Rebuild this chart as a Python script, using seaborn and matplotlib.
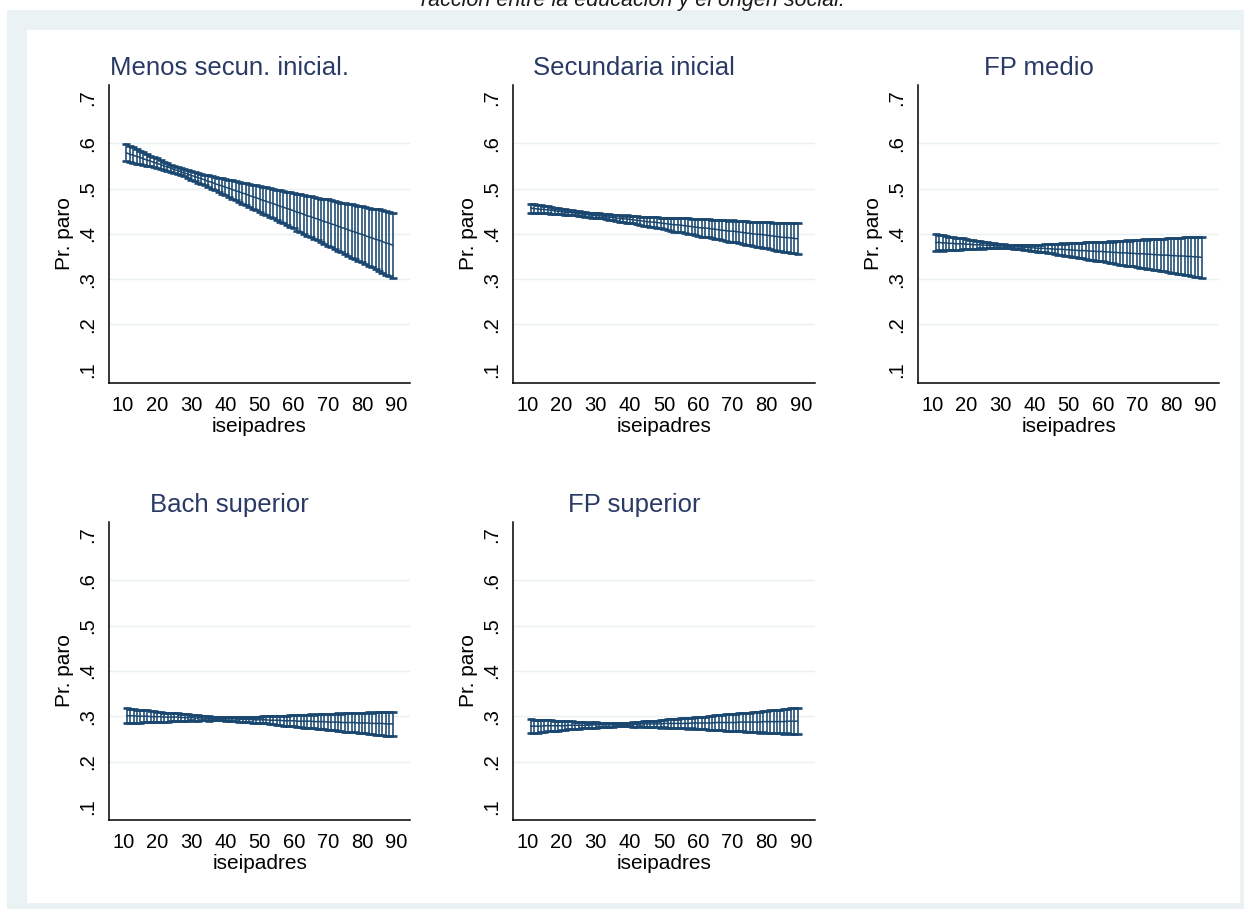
import numpy as np
import pandas as pd
import matplotlib
matplotlib.use("Agg")
import matplotlib.pyplot as plt
from matplotlib.patches import Rectangle
import seaborn as sns

# Predicted probability of unemployment by parents' ISEI, one panel per education level
iseipadres = list(range(11, 90))

panel_titles = ["Menos secun. inicial.", "Secundaria inicial", "FP medio",
                "Bach superior", "FP superior"]

# Margin (predicted probability) and half-width of its 95% interval at each iseipadres value
pr_menos = [0.579, 0.576, 0.574, 0.571, 0.569, 0.566, 0.563, 0.561, 0.558, 0.556,
            0.553, 0.550, 0.548, 0.545, 0.542, 0.540, 0.537, 0.535, 0.532, 0.529,
            0.527, 0.524, 0.522, 0.519, 0.516, 0.514, 0.511, 0.508, 0.506, 0.503,
            0.501, 0.498, 0.495, 0.493, 0.490, 0.488, 0.485, 0.482, 0.480, 0.477,
            0.474, 0.472, 0.469, 0.467, 0.464, 0.461, 0.459, 0.456, 0.454, 0.451,
            0.448, 0.446, 0.443, 0.440, 0.438, 0.435, 0.433, 0.430, 0.427, 0.425,
            0.422, 0.420, 0.417, 0.414, 0.412, 0.409, 0.406, 0.404, 0.401, 0.399,
            0.396, 0.393, 0.391, 0.388, 0.386, 0.383, 0.380, 0.378, 0.375]
hw_menos = [0.019, 0.018, 0.017, 0.016, 0.015, 0.014, 0.013, 0.012, 0.011, 0.011,
            0.010, 0.009, 0.009, 0.008, 0.008, 0.008, 0.008, 0.008, 0.009, 0.009,
            0.010, 0.011, 0.011, 0.012, 0.013, 0.014, 0.015, 0.016, 0.017, 0.018,
            0.019, 0.020, 0.021, 0.022, 0.023, 0.024, 0.025, 0.026, 0.027, 0.028,
            0.030, 0.031, 0.032, 0.033, 0.034, 0.035, 0.036, 0.037, 0.038, 0.039,
            0.041, 0.042, 0.043, 0.044, 0.045, 0.046, 0.047, 0.048, 0.050, 0.051,
            0.052, 0.053, 0.054, 0.055, 0.056, 0.057, 0.059, 0.060, 0.061, 0.062,
            0.063, 0.064, 0.065, 0.066, 0.068, 0.069, 0.070, 0.071, 0.072]

pr_secund = [0.457, 0.456, 0.455, 0.454, 0.454, 0.453, 0.452, 0.451, 0.450, 0.449,
             0.448, 0.447, 0.447, 0.446, 0.445, 0.444, 0.443, 0.442, 0.441, 0.440,
             0.440, 0.439, 0.438, 0.437, 0.436, 0.435, 0.434, 0.433, 0.433, 0.432,
             0.431, 0.430, 0.429, 0.428, 0.427, 0.426, 0.426, 0.425, 0.424, 0.423,
             0.422, 0.421, 0.420, 0.420, 0.419, 0.418, 0.417, 0.416, 0.415, 0.414,
             0.413, 0.413, 0.412, 0.411, 0.410, 0.409, 0.408, 0.407, 0.406, 0.406,
             0.405, 0.404, 0.403, 0.402, 0.401, 0.400, 0.399, 0.399, 0.398, 0.397,
             0.396, 0.395, 0.394, 0.393, 0.392, 0.392, 0.391, 0.390, 0.389]
hw_secund = [0.010, 0.010, 0.009, 0.009, 0.008, 0.008, 0.008, 0.007, 0.007, 0.006,
             0.006, 0.006, 0.005, 0.005, 0.005, 0.005, 0.005, 0.005, 0.005, 0.005,
             0.005, 0.005, 0.005, 0.006, 0.006, 0.006, 0.007, 0.007, 0.008, 0.008,
             0.008, 0.009, 0.009, 0.010, 0.010, 0.011, 0.011, 0.012, 0.012, 0.013,
             0.013, 0.014, 0.015, 0.015, 0.016, 0.016, 0.017, 0.017, 0.018, 0.018,
             0.019, 0.019, 0.020, 0.020, 0.021, 0.021, 0.022, 0.023, 0.023, 0.024,
             0.024, 0.025, 0.025, 0.026, 0.026, 0.027, 0.027, 0.028, 0.029, 0.029,
             0.030, 0.030, 0.031, 0.031, 0.032, 0.032, 0.033, 0.033, 0.034]

pr_fpmedio = [0.381, 0.381, 0.380, 0.380, 0.379, 0.379, 0.378, 0.378, 0.378, 0.377,
              0.377, 0.376, 0.376, 0.376, 0.375, 0.375, 0.374, 0.374, 0.373, 0.373,
              0.373, 0.372, 0.372, 0.371, 0.371, 0.371, 0.370, 0.370, 0.369, 0.369,
              0.368, 0.368, 0.368, 0.367, 0.367, 0.366, 0.366, 0.366, 0.365, 0.365,
              0.364, 0.364, 0.363, 0.363, 0.363, 0.362, 0.362, 0.361, 0.361, 0.361,
              0.360, 0.360, 0.359, 0.359, 0.358, 0.358, 0.358, 0.357, 0.357, 0.356,
              0.356, 0.356, 0.355, 0.355, 0.354, 0.354, 0.353, 0.353, 0.353, 0.352,
              0.352, 0.351, 0.351, 0.351, 0.350, 0.350, 0.349, 0.349, 0.348]
hw_fpmedio = [0.018, 0.017, 0.017, 0.016, 0.015, 0.014, 0.013, 0.013, 0.012, 0.011,
              0.010, 0.010, 0.009, 0.008, 0.008, 0.007, 0.006, 0.006, 0.005, 0.005,
              0.004, 0.004, 0.004, 0.004, 0.004, 0.005, 0.005, 0.006, 0.006, 0.007,
              0.008, 0.008, 0.009, 0.010, 0.010, 0.011, 0.012, 0.013, 0.013, 0.014,
              0.015, 0.016, 0.017, 0.017, 0.018, 0.019, 0.020, 0.020, 0.021, 0.022,
              0.023, 0.024, 0.024, 0.025, 0.026, 0.027, 0.028, 0.028, 0.029, 0.030,
              0.031, 0.032, 0.032, 0.033, 0.034, 0.035, 0.036, 0.036, 0.037, 0.038,
              0.039, 0.040, 0.040, 0.041, 0.042, 0.043, 0.044, 0.044, 0.045]

pr_bach = [0.301, 0.301, 0.301, 0.300, 0.300, 0.300, 0.300, 0.299, 0.299, 0.299,
           0.299, 0.298, 0.298, 0.298, 0.298, 0.298, 0.297, 0.297, 0.297, 0.297,
           0.296, 0.296, 0.296, 0.296, 0.295, 0.295, 0.295, 0.295, 0.295, 0.294,
           0.294, 0.294, 0.294, 0.293, 0.293, 0.293, 0.293, 0.292, 0.292, 0.292,
           0.292, 0.292, 0.291, 0.291, 0.291, 0.291, 0.290, 0.290, 0.290, 0.290,
           0.289, 0.289, 0.289, 0.289, 0.289, 0.288, 0.288, 0.288, 0.288, 0.287,
           0.287, 0.287, 0.287, 0.286, 0.286, 0.286, 0.286, 0.286, 0.285, 0.285,
           0.285, 0.285, 0.284, 0.284, 0.284, 0.284, 0.283, 0.283, 0.283]
hw_bach = [0.016, 0.015, 0.015, 0.014, 0.014, 0.013, 0.013, 0.012, 0.012, 0.011,
           0.011, 0.010, 0.010, 0.009, 0.009, 0.008, 0.008, 0.007, 0.007, 0.006,
           0.006, 0.006, 0.005, 0.005, 0.005, 0.004, 0.004, 0.004, 0.004, 0.004,
           0.004, 0.004, 0.005, 0.005, 0.005, 0.006, 0.006, 0.006, 0.007, 0.007,
           0.008, 0.008, 0.009, 0.009, 0.010, 0.010, 0.011, 0.011, 0.012, 0.012,
           0.013, 0.013, 0.014, 0.014, 0.015, 0.015, 0.016, 0.016, 0.017, 0.017,
           0.018, 0.018, 0.019, 0.019, 0.020, 0.020, 0.021, 0.021, 0.022, 0.023,
           0.023, 0.024, 0.024, 0.025, 0.025, 0.026, 0.026, 0.027, 0.027]

pr_fpsup = [0.278, 0.278, 0.278, 0.278, 0.279, 0.279, 0.279, 0.279, 0.279, 0.279,
            0.279, 0.280, 0.280, 0.280, 0.280, 0.280, 0.280, 0.280, 0.281, 0.281,
            0.281, 0.281, 0.281, 0.281, 0.281, 0.282, 0.282, 0.282, 0.282, 0.282,
            0.282, 0.282, 0.283, 0.283, 0.283, 0.283, 0.283, 0.283, 0.283, 0.284,
            0.284, 0.284, 0.284, 0.284, 0.284, 0.284, 0.284, 0.285, 0.285, 0.285,
            0.285, 0.285, 0.285, 0.285, 0.286, 0.286, 0.286, 0.286, 0.286, 0.286,
            0.286, 0.287, 0.287, 0.287, 0.287, 0.287, 0.287, 0.287, 0.288, 0.288,
            0.288, 0.288, 0.288, 0.288, 0.288, 0.289, 0.289, 0.289, 0.289]
hw_fpsup = [0.015, 0.014, 0.014, 0.013, 0.013, 0.012, 0.012, 0.011, 0.011, 0.010,
            0.010, 0.009, 0.009, 0.008, 0.008, 0.007, 0.007, 0.006, 0.006, 0.006,
            0.005, 0.005, 0.005, 0.004, 0.004, 0.004, 0.004, 0.004, 0.004, 0.004,
            0.005, 0.005, 0.005, 0.006, 0.006, 0.006, 0.007, 0.007, 0.008, 0.008,
            0.009, 0.009, 0.010, 0.010, 0.011, 0.011, 0.012, 0.012, 0.013, 0.013,
            0.014, 0.014, 0.015, 0.015, 0.016, 0.016, 0.017, 0.018, 0.018, 0.019,
            0.019, 0.020, 0.020, 0.021, 0.021, 0.022, 0.022, 0.023, 0.023, 0.024,
            0.025, 0.025, 0.026, 0.026, 0.027, 0.027, 0.028, 0.028, 0.029]

panel_pr = [pr_menos, pr_secund, pr_fpmedio, pr_bach, pr_fpsup]
panel_hw = [hw_menos, hw_secund, hw_fpmedio, hw_bach, hw_fpsup]

ytick_vals = [0.1, 0.2, 0.3, 0.4, 0.5, 0.6, 0.7]
ytick_labels = [".1", ".2", ".3", ".4", ".5", ".6", ".7"]
ygrid_vals = [0.2, 0.3, 0.4, 0.5, 0.6]
xtick_vals = [10, 20, 30, 40, 50, 60, 70, 80, 90]

caption = "racción entre la educación y el origen social."

# ---- styling ----
sns.set_style("white")
plt.rcParams["font.family"] = ["Liberation Sans", "DejaVu Sans"]
plt.rcParams["text.color"] = "black"
plt.rcParams["axes.labelcolor"] = "black"
plt.rcParams["xtick.color"] = "black"
plt.rcParams["ytick.color"] = "black"

NAVY = "#1a476f"
TITLE_COLOR = "#2a3a66"
REGION = "#eaf2f3"
GRIDC = "#e9f0f2"

W, H = 1244, 910
fig = plt.figure(figsize=(W / 100, H / 100), dpi=100, facecolor="white")

# outer graph region and inner white plot area, kept beneath the axes
fig.patches.append(Rectangle((7 / W, 1 - 909 / H), (W - 7) / W, (909 - 10) / H,
                             transform=fig.transFigure, facecolor=REGION,
                             edgecolor="none", zorder=-20))
fig.patches.append(Rectangle((27 / W, 1 - 903 / H), (1240 - 27) / W, (903 - 30) / H,
                             transform=fig.transFigure, facecolor="white",
                             edgecolor="none", zorder=-10))

fig.text(633 / W, 1 - 6 / H, caption, ha="center", va="baseline",
         fontsize=15.5, style="italic", color="#1a1a1a")

# axes boxes in pixels: left, top, right, bottom
boxes = [(109, 85, 410, 382.7), (513.3, 85, 815, 382.7), (918.3, 85, 1219, 382.7),
         (109.3, 521.7, 410, 820), (513.3, 521.7, 815, 820)]


def long_frame(pr, hw):
    x = np.asarray(iseipadres, dtype=float)
    pr = np.asarray(pr, dtype=float)
    hw = np.asarray(hw, dtype=float)
    return pd.DataFrame({
        "iseipadres": np.concatenate([x, x, x]),
        "Pr. paro": np.concatenate([pr - hw, pr, pr + hw]),
    })


for (l, t, r, b), title, pr, hw in zip(boxes, panel_titles, panel_pr, panel_hw):
    ax = fig.add_axes([l / W, 1 - b / H, (r - l) / W, (b - t) / H])
    ax.set_facecolor("white")
    for gy in ygrid_vals:
        ax.axhline(gy, color=GRIDC, lw=1.0, zorder=0)

    df = long_frame(pr, hw)
    sns.lineplot(data=df, x="iseipadres", y="Pr. paro", estimator="median",
                 errorbar=("pi", 100), err_style="bars", color=NAVY,
                 linewidth=1.1, ax=ax,
                 err_kws=dict(capsize=3.0, elinewidth=1.15, capthick=1.9))

    ax.set_xlim(5.9, 94.1)
    ax.set_ylim(0.071, 0.729)
    ax.set_xticks(xtick_vals)
    ax.set_xticklabels([str(v) for v in xtick_vals], fontsize=14.5)
    ax.set_yticks(ytick_vals)
    ax.set_yticklabels(ytick_labels, fontsize=14.5, rotation=90, va="center")
    ax.tick_params(axis="x", length=6.5, width=1.0, pad=3.0, colors="black")
    ax.tick_params(axis="y", length=5.5, width=1.0, pad=3.3, colors="black")

    for side in ("top", "right"):
        ax.spines[side].set_visible(False)
    for side in ("left", "bottom"):
        ax.spines[side].set_color("black")
        ax.spines[side].set_linewidth(1.1)

    ax.set_xlabel("iseipadres", fontsize=15, color="black")
    ax.set_ylabel("Pr. paro", fontsize=15, color="black")
    ax.xaxis.set_label_coords(0.5, -(420 - 382.7 - 3) / (b - t))
    ax.yaxis.set_label_coords(-(109 - 74) / (r - l), 0.5)

    ax.text(0.5 - 30 / (r - l), 1 + 10 / (b - t), title, transform=ax.transAxes,
            ha="center", va="baseline", fontsize=18.5, color=TITLE_COLOR)

fig.savefig("out.png", dpi=100, facecolor="white")
